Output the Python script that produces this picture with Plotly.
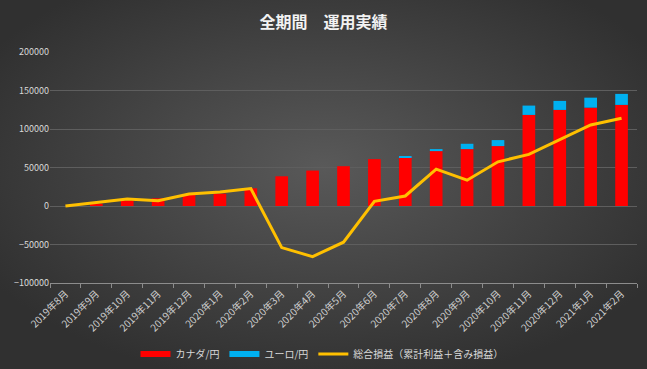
import base64
import plotly.graph_objects as go

months = ["2019年8月", "2019年9月", "2019年10月", "2019年11月", "2019年12月",
          "2020年1月", "2020年2月", "2020年3月", "2020年4月", "2020年5月",
          "2020年6月", "2020年7月", "2020年8月", "2020年9月", "2020年10月",
          "2020年11月", "2020年12月", "2021年1月", "2021年2月"]
cad_jpy = [0, 3000, 7000, 10000, 14500, 16000, 23000, 38600, 46000, 51700,
           60900, 63500, 71300, 73900, 77800, 118300, 124800, 127700, 131300]
eur_jpy = [0, 0, 0, 0, 0, 0, 0, 0, 0, 0,
           0, 1300, 2600, 6900, 7800, 12100, 11700, 13000, 14300]
total_pl = [0, 4700, 9100, 6900, 15600, 18200, 22600, -54000, -65700, -47000,
            6000, 13000, 47800, 33500, 57400, 67000, 85600, 105200, 114000]

W, H = 647, 369
L, R, T, B = 50, 10, 52, 86
PW, PH = W - L - R, H - T - B

svg = ('<svg xmlns="http://www.w3.org/2000/svg" width="647" height="369" '
       'preserveAspectRatio="none" viewBox="0 0 647 369">'
       '<defs><radialGradient id="g" cx="50%" cy="45%" r="60%">'
       '<stop offset="0%" stop-color="#595959"/>'
       '<stop offset="100%" stop-color="#303030"/>'
       '</radialGradient></defs>'
       '<rect width="647" height="369" fill="url(#g)"/></svg>')
bg_uri = "data:image/svg+xml;base64," + base64.b64encode(svg.encode()).decode()

font_family = "Noto Sans CJK JP, Noto Sans, sans-serif"

fig = go.Figure()
fig.add_trace(go.Bar(x=months, y=cad_jpy, name="カナダ/円", showlegend=False,
                     marker=dict(color="#FF0000", line=dict(width=0))))
fig.add_trace(go.Bar(x=months, y=eur_jpy, name="ユーロ/円", showlegend=False,
                     marker=dict(color="#00B0F0", line=dict(width=0))))
fig.add_trace(go.Scatter(x=months, y=total_pl, name="総合損益（累計利益＋含み損益）",
                         mode="lines", line=dict(color="#FFC000", width=3),
                         showlegend=False))
# legend entries (thick swatches like the reference)
fig.add_trace(go.Scatter(x=[None], y=[None], name="カナダ/円", mode="lines",
                         line=dict(color="#FF0000", width=6)))
fig.add_trace(go.Scatter(x=[None], y=[None], name="ユーロ/円", mode="lines",
                         line=dict(color="#00B0F0", width=6)))
fig.add_trace(go.Scatter(x=[None], y=[None], name="総合損益（累計利益＋含み損益）",
                         mode="lines", line=dict(color="#FFC000", width=3)))

fig.update_layout(
    width=W, height=H,
    margin=dict(l=L, r=R, t=T, b=B, autoexpand=False),
    paper_bgcolor="#3a3a3a",
    plot_bgcolor="rgba(0,0,0,0)",
    barmode="relative",
    bargap=0.59,
    font=dict(family=font_family, color="#D9D9D9", size=9),
    title=dict(text="<b>全期間　運用実績</b>", x=0.5, xanchor="center",
               y=1 - 22 / H, yanchor="middle",
               font=dict(size=16, color="#F2F2F2", family=font_family)),
    legend=dict(orientation="h", xref="container", x=322 / W, xanchor="center",
                yref="container", y=1 - 354 / H, yanchor="middle",
                font=dict(size=10, color="#D9D9D9"), bgcolor="rgba(0,0,0,0)",
                traceorder="normal", itemwidth=30),
    images=[dict(source=bg_uri, xref="paper", yref="paper",
                 x=-L / PW, y=1 + T / PH,
                 sizex=W / PW, sizey=H / PH,
                 xanchor="left", yanchor="top", sizing="stretch", layer="below")],
    xaxis=dict(type="category", tickangle=-45, tickfont=dict(size=10, color="#D0D0D0"),
               showgrid=False, showline=True, linecolor="#8C8C8C", automargin=False,
               ticks="outside", tickson="boundaries", ticklen=4, tickcolor="#8C8C8C"),
    yaxis=dict(range=[-100000, 200000], dtick=50000, tickformat="d", automargin=False,
               showgrid=True, gridcolor="#5E5E5E", gridwidth=1,
               zeroline=False, showline=False, tickfont=dict(size=9, color="#D9D9D9")),
)

fig.write_html("out.html", config={"displayModeBar": False},
               post_script="document.body.style.margin='0';document.body.style.overflow='hidden';")
